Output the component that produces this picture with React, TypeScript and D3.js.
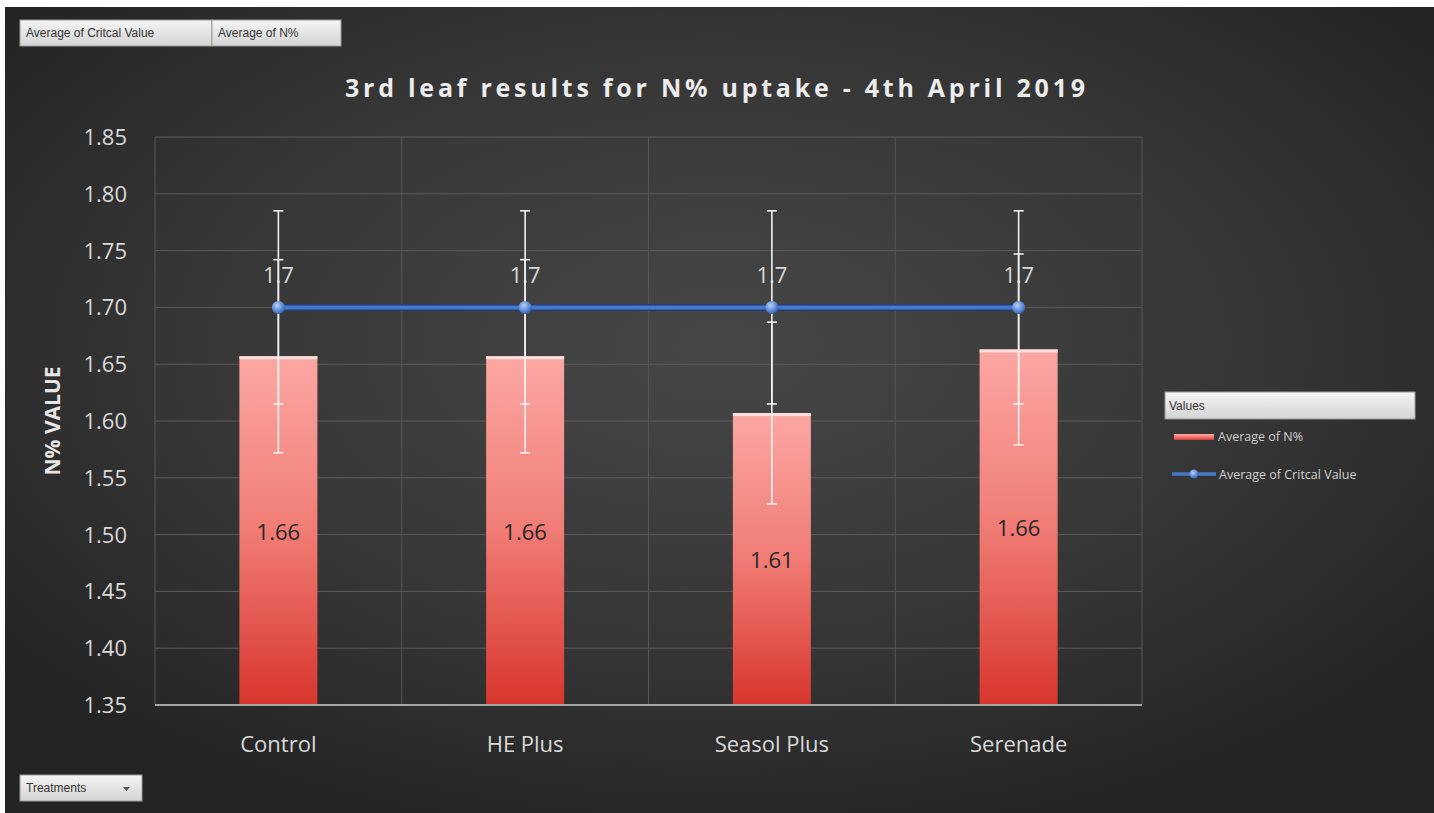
import React from 'react';
import * as d3 from 'd3';

const categories = ['Control', 'HE Plus', 'Seasol Plus', 'Serenade'];
const avgN = [1.657, 1.657, 1.607, 1.663];
const avgNErr = [0.085, 0.085, 0.08, 0.084];
const critical = [1.7, 1.7, 1.7, 1.7];
const criticalErr = [0.085, 0.085, 0.085, 0.085];
const yTicks = [1.35, 1.4, 1.45, 1.5, 1.55, 1.6, 1.65, 1.7, 1.75, 1.8, 1.85];

const W = 1434;
const H = 813;
const font = '"Open Sans", "Noto Sans", sans-serif';

const App: React.FC = () => {
  const x = d3.scaleBand<string>().domain(categories).range([155, 1142]).padding(0);
  const y = d3.scaleLinear().domain([1.35, 1.85]).range([705, 137]);
  const barW = 78;
  const cx = (c: string) => (x(c) || 0) + x.bandwidth() / 2;

  const line = d3
    .line<number>()
    .x((_, i) => cx(categories[i]))
    .y(d => y(d));

  const errBar = (c: string, v: number, e: number, key: string) => (
    <g key={key} stroke="#f0f0f0" strokeWidth={1.6}>
      <line x1={cx(c)} x2={cx(c)} y1={y(v + e)} y2={y(v - e)} />
      <line x1={cx(c) - 5} x2={cx(c) + 5} y1={y(v + e)} y2={y(v + e)} />
      <line x1={cx(c) - 5} x2={cx(c) + 5} y1={y(v - e)} y2={y(v - e)} />
    </g>
  );

  const button = (bx: number, by: number, w: number, label: string, arrow = false) => (
    <g>
      <rect x={bx} y={by} width={w} height={26} fill="url(#btnGrad)" stroke="#9a9a9a" strokeWidth={1} />
      <text x={bx + 6} y={by + 17} fontFamily="'Liberation Sans', sans-serif" fontSize={12} fill="#333">
        {label}
      </text>
      {arrow && <path d={`M${bx + w - 19},${by + 12} l7,0 l-3.5,4 z`} fill="#555" />}
    </g>
  );

  return (
    <svg width={W} height={H} style={{ position: 'absolute', left: 0, top: 0 }}>
      <defs>
        <radialGradient id="bg" cx="0.5" cy="0.42" r="0.65">
          <stop offset="0" stopColor="#474747" />
          <stop offset="0.6" stopColor="#353535" />
          <stop offset="1" stopColor="#232323" />
        </radialGradient>
        <linearGradient id="barGrad" x1="0" y1="0" x2="0" y2="1">
          <stop offset="0" stopColor="#fca7a3" />
          <stop offset="0.5" stopColor="#f07c75" />
          <stop offset="1" stopColor="#d8362e" />
        </linearGradient>
        <linearGradient id="btnGrad" x1="0" y1="0" x2="0" y2="1">
          <stop offset="0" stopColor="#f4f4f4" />
          <stop offset="1" stopColor="#d4d4d4" />
        </linearGradient>
        <radialGradient id="dotGrad" cx="0.4" cy="0.35" r="0.7">
          <stop offset="0" stopColor="#b7d0f7" />
          <stop offset="0.5" stopColor="#6d98de" />
          <stop offset="1" stopColor="#2f5ba8" />
        </radialGradient>
      </defs>

      <rect width={W} height={H} fill="#ffffff" />
      <rect x={5} y={7} width={W - 5} height={H - 7} fill="url(#bg)" />

      {/* gridlines */}
      {yTicks.map(t => (
        <line key={'h' + t} x1={155} x2={1142} y1={y(t)} y2={y(t)} stroke="#5c5c5c" strokeWidth={1} />
      ))}
      {categories.concat(['end']).map((c, i) => {
        const gx = i < categories.length ? x(c) || 0 : 1142;
        return <line key={'v' + i} x1={gx} x2={gx} y1={y(1.85)} y2={y(1.35)} stroke="#575757" strokeWidth={1} />;
      })}

      {/* title */}
      <text
        x={715}
        y={97}
        textAnchor="middle"
        fontFamily={font}
        fontWeight="bold"
        fontSize={25}
        fill="#ececec"
        textLength={740}
        lengthAdjust="spacing"
      >
        3rd leaf results for N% uptake - 4th April 2019
      </text>

      {/* y axis */}
      {yTicks.map(t => (
        <text key={'t' + t} x={127} y={y(t) + 8} textAnchor="end" fontFamily={font} fontSize={22} fill="#d9d9d9">
          {t.toFixed(2)}
        </text>
      ))}
      <text
        transform={`translate(60,${y(1.6)}) rotate(-90)`}
        textAnchor="middle"
        fontFamily={font}
        fontWeight="bold"
        fontSize={21}
        fill="#e6e6e6"
      >
        N% VALUE
      </text>

      {/* bars */}
      {categories.map((c, i) => (
        <g key={'b' + c}>
          <rect x={cx(c) - barW / 2} y={y(avgN[i])} width={barW} height={y(1.35) - y(avgN[i])} fill="url(#barGrad)" />
          <rect x={cx(c) - barW / 2} y={y(avgN[i])} width={barW} height={3} fill="#fde0de" />
        </g>
      ))}

      {/* x axis */}
      <line x1={155} x2={1142} y1={705} y2={705} stroke="#a6a6a6" strokeWidth={2} />
      {categories.map(c => (
        <text key={'x' + c} x={cx(c)} y={752} textAnchor="middle" fontFamily={font} fontSize={22} fill="#d9d9d9">
          {c}
        </text>
      ))}

      {/* bar labels */}
      {categories.map((c, i) => (
        <text
          key={'bl' + c}
          x={cx(c)}
          y={(y(avgN[i]) + y(1.35)) / 2 + 9}
          textAnchor="middle"
          fontFamily={font}
          fontSize={22}
          fill="#262626"
        >
          {avgN[i].toFixed(2)}
        </text>
      ))}

      {/* critical labels */}
      {categories.map((c, i) => (
        <text key={'cl' + c} x={cx(c)} y={283} textAnchor="middle" fontFamily={font} fontSize={22} fill="#d9d9d9">
          {critical[i].toFixed(1)}
        </text>
      ))}

      {/* critical line */}
      <path d={line(critical) || ''} fill="none" stroke="#1f3f7a" strokeWidth={7} />
      <path d={line(critical) || ''} fill="none" stroke="#4a78c8" strokeWidth={4} />

      {/* error bars */}
      {categories.map((c, i) => errBar(c, avgN[i], avgNErr[i], 'e1' + c))}
      {categories.map((c, i) => errBar(c, critical[i], criticalErr[i], 'e2' + c))}

      {categories.map((c, i) => (
        <circle key={'d' + c} cx={cx(c)} cy={y(critical[i])} r={6.5} fill="url(#dotGrad)" />
      ))}

      {/* legend */}
      <rect x={1165} y={392} width={250} height={27} fill="url(#btnGrad)" stroke="#9a9a9a" />
      <text x={1169} y={410} fontFamily="'Liberation Sans', sans-serif" fontSize={12} fill="#333">
        Values
      </text>
      <rect x={1174} y={434} width={40} height={6} fill="url(#barGrad)" />
      <text x={1218} y={441} fontFamily={font} fontSize={12.5} fill="#d0d0d0">
        Average of N%
      </text>
      <line x1={1172} x2={1216} y1={474} y2={474} stroke="#4a78c8" strokeWidth={3.5} />
      <circle cx={1194} cy={474} r={4.5} fill="url(#dotGrad)" />
      <text x={1219} y={479} fontFamily={font} fontSize={12.5} fill="#d0d0d0">
        Average of Critcal Value
      </text>

      {/* field buttons */}
      {button(20, 20, 192, 'Average of Critcal Value')}
      {button(212, 20, 129, 'Average of N%')}
      {button(20, 775, 122, 'Treatments', true)}
    </svg>
  );
};

export default App;
